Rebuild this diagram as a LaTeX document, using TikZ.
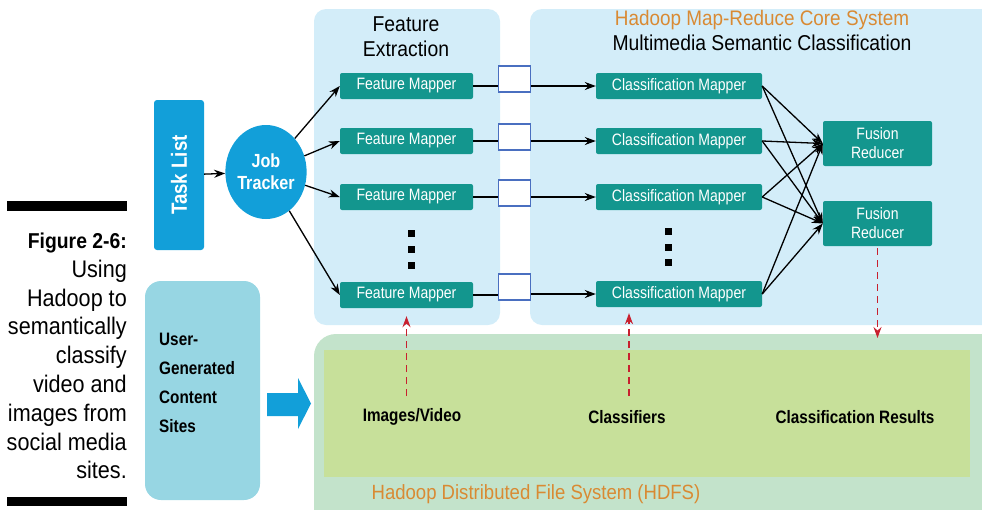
\documentclass[tikz,border=0pt]{standalone}
\usepackage{fontspec}
\setmainfont{Liberation Sans}
\newfontfamily\condfont[FakeStretch=0.9]{Liberation Sans}
\newfontfamily\narrowfont[FakeStretch=0.85]{Liberation Sans}
\usetikzlibrary{arrows.meta,shapes.geometric}
\definecolor{panelblue}{RGB}{211,237,249}
\definecolor{mapteal}{RGB}{19,150,142}
\definecolor{jobblue}{RGB}{18,159,217}
\definecolor{usercyan}{RGB}{151,214,227}
\definecolor{hdfsgreen}{RGB}{195,227,203}
\definecolor{storegreen}{RGB}{199,224,154}
\definecolor{titleorange}{RGB}{217,138,51}
\definecolor{feedred}{RGB}{200,32,47}
\definecolor{bufblue}{RGB}{74,111,192}

\begin{document}
\begin{tikzpicture}[x=1pt,y=-1pt]
    \tikzstyle{panel}=[fill=panelblue, rounded corners=12pt, inner sep=0pt]
    \tikzstyle{mapper}=[fill=mapteal, rounded corners=2pt, text=white, inner sep=0pt, minimum height=26pt, font=\narrowfont\fontsize{16.5}{19}\selectfont]
    \tikzstyle{buffer}=[draw=bufblue, line width=1.4pt, fill=white, minimum width=32pt, minimum height=26pt, inner sep=0pt]
    \tikzstyle{flow}=[line width=1.3pt, -{Stealth[length=11pt,width=8pt]}]
    \tikzstyle{feed}=[draw=feedred, line width=1.3pt, dash pattern=on 7pt off 5pt, -{Stealth[length=11pt,width=8pt]}]
    \tikzstyle{store label}=[font=\narrowfont\bfseries\fontsize{18}{21}\selectfont]
    \useasboundingbox (0,0) rectangle (982,509);

    % caption at the left
    \fill (7,201) rectangle (127,211);
    \fill (7,497) rectangle (127,506);
    \node[anchor=east, align=right, inner sep=0pt, font=\condfont\fontsize{24}{28.8}\selectfont] (caption) at (127,356)
        {{\bfseries\fontsize{21.5}{28.8}\selectfont Figure 2-6:}\\Using\\Hadoop to\\semantically\\classify\\video and\\images from\\social media\\sites.};

    % backgrounds
    \node[panel, minimum width=186pt, minimum height=316pt] (fepanel) at (407,167) {};
    \node[panel, minimum width=470pt, minimum height=316pt] (mrpanel) at (765,167) {};
    \node[fill=hdfsgreen, rounded corners=22pt, minimum width=690pt, minimum height=200pt, inner sep=0pt] (hdfs) at (659,434) {};
    \node[fill=storegreen, minimum width=646pt, minimum height=127pt, inner sep=0pt] (store) at (647,413.5) {};
    \node[fill=usercyan, rounded corners=16pt, minimum width=115pt, minimum height=219pt, inner sep=0pt] (users) at (202.5,390.5) {};

    % titles
    \node[align=center, font=\condfont\fontsize{21.5}{25}\selectfont] (fetitle) at (406,37) {Feature\\Extraction};
    \node[text=titleorange, font=\condfont\fontsize{21}{25}\selectfont] (mrtitle) at (762,20) {Hadoop Map-Reduce Core System};
    \node[font=\condfont\fontsize{21.5}{25}\selectfont] (mrsubtitle) at (762,43) {Multimedia Semantic Classification};
    \node[text=titleorange, font=\condfont\fontsize{20.6}{25}\selectfont] (hdfstitle) at (536,494) {Hadoop Distributed File System (HDFS)};

    % job control
    \node[fill=jobblue, rounded corners=3pt, minimum width=150pt, minimum height=50pt, inner sep=0pt, rotate=90, text=white, font=\narrowfont\bfseries\fontsize{22}{25}\selectfont] (tasklist) at (179,175) {Task List};
    \node[ellipse, fill=jobblue, minimum width=77pt, minimum height=94pt, inner sep=0pt, align=center, text=white, font=\narrowfont\bfseries\fontsize{19}{22}\selectfont] (jt) at (266,172) {Job\\Tracker};

    % mappers and buffers
    \node[mapper, minimum width=133pt] (fm1) at (406.5,86) {Feature Mapper};
    \node[mapper, minimum width=133pt] (fm2) at (406.5,141) {Feature Mapper};
    \node[mapper, minimum width=133pt] (fm3) at (406.5,197) {Feature Mapper};
    \node[mapper, minimum width=133pt] (fm4) at (406.5,295) {Feature Mapper};
    \node[buffer] (buf1) at (514.5,79) {};
    \node[buffer] (buf2) at (514.5,137) {};
    \node[buffer] (buf3) at (514.5,193) {};
    \node[buffer] (buf4) at (514.5,287) {};
    \node[mapper, minimum width=166pt] (cm1) at (679,86) {Classification Mapper};
    \node[mapper, minimum width=166pt] (cm2) at (679,141) {Classification Mapper};
    \node[mapper, minimum width=166pt] (cm3) at (679,197) {Classification Mapper};
    \node[mapper, minimum width=166pt] (cm4) at (679,294) {Classification Mapper};
    \node[mapper, minimum width=109pt, minimum height=45pt, align=center] (fr1) at (877.5,143.5) {Fusion\\Reducer};
    \node[mapper, minimum width=109pt, minimum height=45pt, align=center] (fr2) at (877.5,223.5) {Fusion\\Reducer};
    \fill (407.5,229.5) rectangle ++(7,7);
    \fill (407.5,245.5) rectangle ++(7,7);
    \fill (407.5,261.5) rectangle ++(7,7);
    \fill (664.5,227.5) rectangle ++(7,7);
    \fill (664.5,243.5) rectangle ++(7,7);
    \fill (664.5,258.5) rectangle ++(7,7);

    % store contents
    \node[store label] (imglabel) at (412,417) {Images/Video};
    \node[store label] (clslabel) at (627,417) {Classifiers};
    \node[store label] (reslabel) at (855,417) {Classification Results};
    \node[anchor=west, align=left, inner sep=0pt, font=\narrowfont\bfseries\fontsize{18}{29}\selectfont] (userstext) at (159,383) {User-\\Generated\\Content\\Sites};
    \fill[jobblue] (267,393) -- (298,393) -- (298,378) -- (311,403.5) -- (298,429) -- (298,416) -- (267,416) -- cycle;

    % connectors
    \draw[flow] (tasklist) -- (jt);
    \draw[flow] (jt) -- (fm1.west);
    \draw[flow] (jt) -- (fm2.west);
    \draw[flow] (jt) -- (fm3.west);
    \draw[flow] (jt) -- (fm4.west);
    \draw[line width=1.3pt] (fm1) -- (buf1.west |- fm1);
    \draw[line width=1.3pt] (fm2) -- (buf2.west |- fm2);
    \draw[line width=1.3pt] (fm3) -- (buf3.west |- fm3);
    \draw[line width=1.3pt] (fm4) -- (buf4.west |- fm4);
    \draw[flow] (buf1.east |- cm1) -- (cm1);
    \draw[flow] (buf2.east |- cm2) -- (cm2);
    \draw[flow] (buf3.east |- cm3) -- (cm3);
    \draw[flow] (buf4.east |- cm4) -- (cm4);
    \draw[flow] (cm1.east) -- (fr1.west);
    \draw[flow] (cm1.east) -- (fr2.west);
    \draw[flow] (cm2.east) -- (fr1.west);
    \draw[flow] (cm2.east) -- (fr2.west);
    \draw[flow] (cm3.east) -- (fr1.west);
    \draw[flow] (cm3.east) -- (fr2.west);
    \draw[flow] (cm4.east) -- (fr1.west);
    \draw[flow] (cm4.east) -- (fr2.west);
    \coordinate (imgsrc) at (406.5,396);
    \coordinate (clssrc) at (629,396);
    \coordinate (ressink) at (877.5,338);
    \draw[feed, shorten >=8pt] (imgsrc) -- (fm4.south);
    \draw[feed, shorten >=6pt] (clssrc) -- (clssrc |- cm4.south);
    \draw[feed, shorten <=2pt] (fr2.south) -- (ressink);
\end{tikzpicture}
\end{document}
